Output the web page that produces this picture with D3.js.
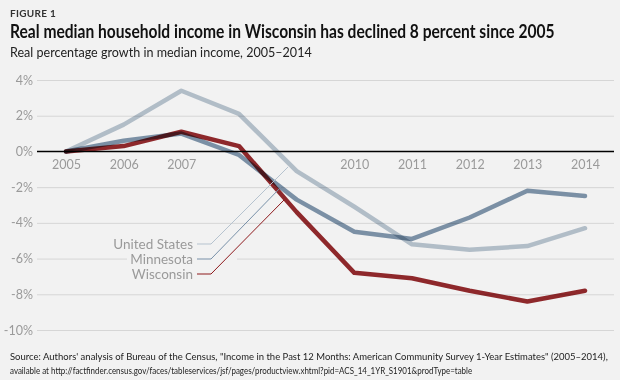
<!DOCTYPE html>
<html>
<head>
<meta charset="utf-8">
<script src="https://cdn.jsdelivr.net/npm/d3@7"></script>
<style>
  html, body { margin: 0; padding: 0; background: #f2f2f2; }
  svg { display: block; }
  text { font-family: Lato, "Open Sans", sans-serif; }
</style>
</head>
<body>
<div id="chart"></div>
<script>
const years = [2005, 2006, 2007, 2008, 2009, 2010, 2011, 2012, 2013, 2014];
const labelledYears = [2005, 2006, 2007, 2010, 2011, 2012, 2013, 2014];
const yTicks = [4, 2, 0, -2, -4, -6, -8, -10];
const seriesNames = ["United States", "Minnesota", "Wisconsin"];
const unitedStates = [0, 1.5, 3.4, 2.1, -1.1, -3.1, -5.2, -5.5, -5.3, -4.3];
const minnesota   = [0, 0.6, 1.0, -0.2, -2.7, -4.5, -4.9, -3.7, -2.2, -2.5];
const wisconsin   = [0, 0.3, 1.1, 0.3, -3.4, -6.8, -7.1, -7.8, -8.4, -7.8];
const seriesColors = ["#b6c3cf", "#7890a8", "#8e1a1d"];

const W = 620, H = 380;
const svg = d3.select("#chart").append("svg").attr("width", W).attr("height", H);
svg.append("rect").attr("width", W).attr("height", H).attr("fill", "#f2f2f2");

// fit a text to a target width by horizontal scaling
function fitText(sel, x0, y0, width) {
  sel.attr("x", 0).attr("y", 0);
  const w = sel.node().getComputedTextLength();
  const s = Math.min(1, width / w);
  sel.attr("transform", `translate(${x0},${y0}) scale(${s},1)`);
  return sel;
}

// Titles
svg.append("text").attr("x", 10).attr("y", 17).text("FIGURE 1")
  .attr("font-size", 10).attr("font-weight", 700).attr("fill", "#333")
  .attr("letter-spacing", 0.3);
fitText(svg.append("text")
  .text("Real median household income in Wisconsin has declined 8 percent since 2005")
  .attr("font-size", 18).attr("font-weight", 700).attr("fill", "#111"), 10, 38, 545);
fitText(svg.append("text")
  .text("Real percentage growth in median income, 2005–2014")
  .attr("font-size", 13.5).attr("fill", "#222"), 10, 57, 302);

const x = d3.scalePoint().domain(years).range([66, 585]);
const y = d3.scaleLinear().domain([-10, 4]).range([330, 80]);
const left = 37, right = 614;

// gridlines + y axis
const yAxis = d3.axisLeft(y).tickValues(yTicks).tickFormat(d => d + "%")
  .tickSize(-(right - left)).tickPadding(4);
const gy = svg.append("g").attr("transform", `translate(${left},0)`).call(yAxis);
gy.select(".domain").remove();
gy.selectAll(".tick line").attr("stroke", "#d6d6d6").attr("stroke-width", 1)
  .attr("stroke-opacity", d => d === 0 ? 0 : 1);
gy.selectAll(".tick text").attr("fill", "#9a9a9a").attr("font-size", 12.5)
  .attr("font-family", "Lato, sans-serif");

// x axis labels
const xAxis = d3.axisBottom(x).tickValues(labelledYears).tickSize(0).tickPadding(9);
const gx = svg.append("g").attr("transform", `translate(0,${y(0)})`).call(xAxis);
gx.select(".domain").remove();
gx.selectAll(".tick text").attr("fill", "#9a9a9a").attr("font-size", 12.5)
  .attr("font-family", "Lato, sans-serif");

// legend background gap
svg.append("rect").attr("x", 127).attr("y", 236).attr("width", 110).attr("height", 46)
  .attr("fill", "#f2f2f2");

// zero line
svg.append("line").attr("x1", left).attr("x2", right).attr("y1", y(0)).attr("y2", y(0))
  .attr("stroke", "#000").attr("stroke-width", 1.6);

// lines
const allSeries = [unitedStates, minnesota, wisconsin];
const line = d3.line().x((d, i) => x(years[i])).y(d => y(d));
allSeries.forEach((s, k) => {
  svg.append("path").datum(s).attr("d", line).attr("fill", "none")
    .attr("stroke", seriesColors[k]).attr("stroke-width", 4.5)
    .attr("stroke-opacity", 0.93)
    .attr("stroke-linejoin", "round").attr("stroke-linecap", "round")
    .style("mix-blend-mode", "multiply");
});

// legend labels with leader lines
const legendY = [244, 259, 274];
const leaderEnd = [[288, 167], [282, 186], [284, 200]];
seriesNames.forEach((name, k) => {
  svg.append("text").attr("x", 193).attr("y", legendY[k]).attr("dy", "0.35em")
    .attr("text-anchor", "end").attr("font-size", 13.5).attr("fill", "#9a9a9a")
    .text(name);
  svg.append("polyline")
    .attr("points", `197,${legendY[k]} 211,${legendY[k]} ${leaderEnd[k][0]},${leaderEnd[k][1]}`)
    .attr("fill", "none").attr("stroke", seriesColors[k]).attr("stroke-width", 1);
});

// source
fitText(svg.append("text")
  .text("Source: Authors' analysis of Bureau of the Census, \"Income in the Past 12 Months: American Community Survey 1-Year Estimates\" (2005–2014),")
  .attr("font-size", 10).attr("fill", "#222"), 10, 360, 598);
fitText(svg.append("text")
  .text("available at http://factfinder.census.gov/faces/tableservices/jsf/pages/productview.xhtml?pid=ACS_14_1YR_S1901&prodType=table")
  .attr("font-size", 10).attr("fill", "#222"), 10, 374, 463);
</script>
</body>
</html>
